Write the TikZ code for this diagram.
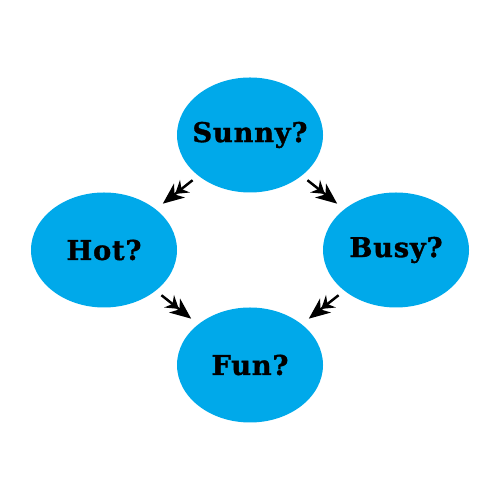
\documentclass[tikz,border=0pt]{standalone}
\usepackage{fontspec}
\setmainfont{DejaVu Serif}
\newfontfamily\slabfont{DejaVu Serif}[LetterSpace=3, BoldFeatures={FakeBold=1.2}]
\usepackage{tikz}
\usetikzlibrary{arrows.meta, %
                shapes, positioning}

\definecolor{skyblue}{RGB}{0,169,234}

\begin{document}
\begin{tikzpicture}
    \tikzset{QuestionStyle/.style = {ellipse, fill=skyblue, inner xsep=-0.4cm, inner ysep=0pt,
        minimum width=2.92cm, minimum height=2.3cm,
        font=\slabfont\bfseries\fontsize{15.5}{18}\selectfont}}
    \tikzset{ArrowStyle/.style = {line width=1.4pt, shorten <=4pt, shorten >=5pt,
        -{Stealth[length=7pt,width=9pt,inset=2.5pt,sep=-3pt]Stealth[length=12pt,width=10pt,inset=3.5pt]}}}
    \useasboundingbox (0,0) rectangle (10,10);
    \node[QuestionStyle] (Sunny) at (5,7.3) {Sunny?};
    \node[QuestionStyle, on grid, below left=2.3cm and 2.92cm of Sunny](Hot){Hot?};
    \node[QuestionStyle, on grid, below right=2.3cm and 2.92cm of Sunny](Busy){Busy?};
    \node[QuestionStyle, on grid, below=4.6cm of Sunny](Fun){Fun?};
    \draw[ArrowStyle](Sunny) to (Hot);
    \draw[ArrowStyle](Sunny) to (Busy);
    \draw[ArrowStyle](Hot) to (Fun);
    \draw[ArrowStyle](Busy) to (Fun);
\end{tikzpicture}
\end{document}
